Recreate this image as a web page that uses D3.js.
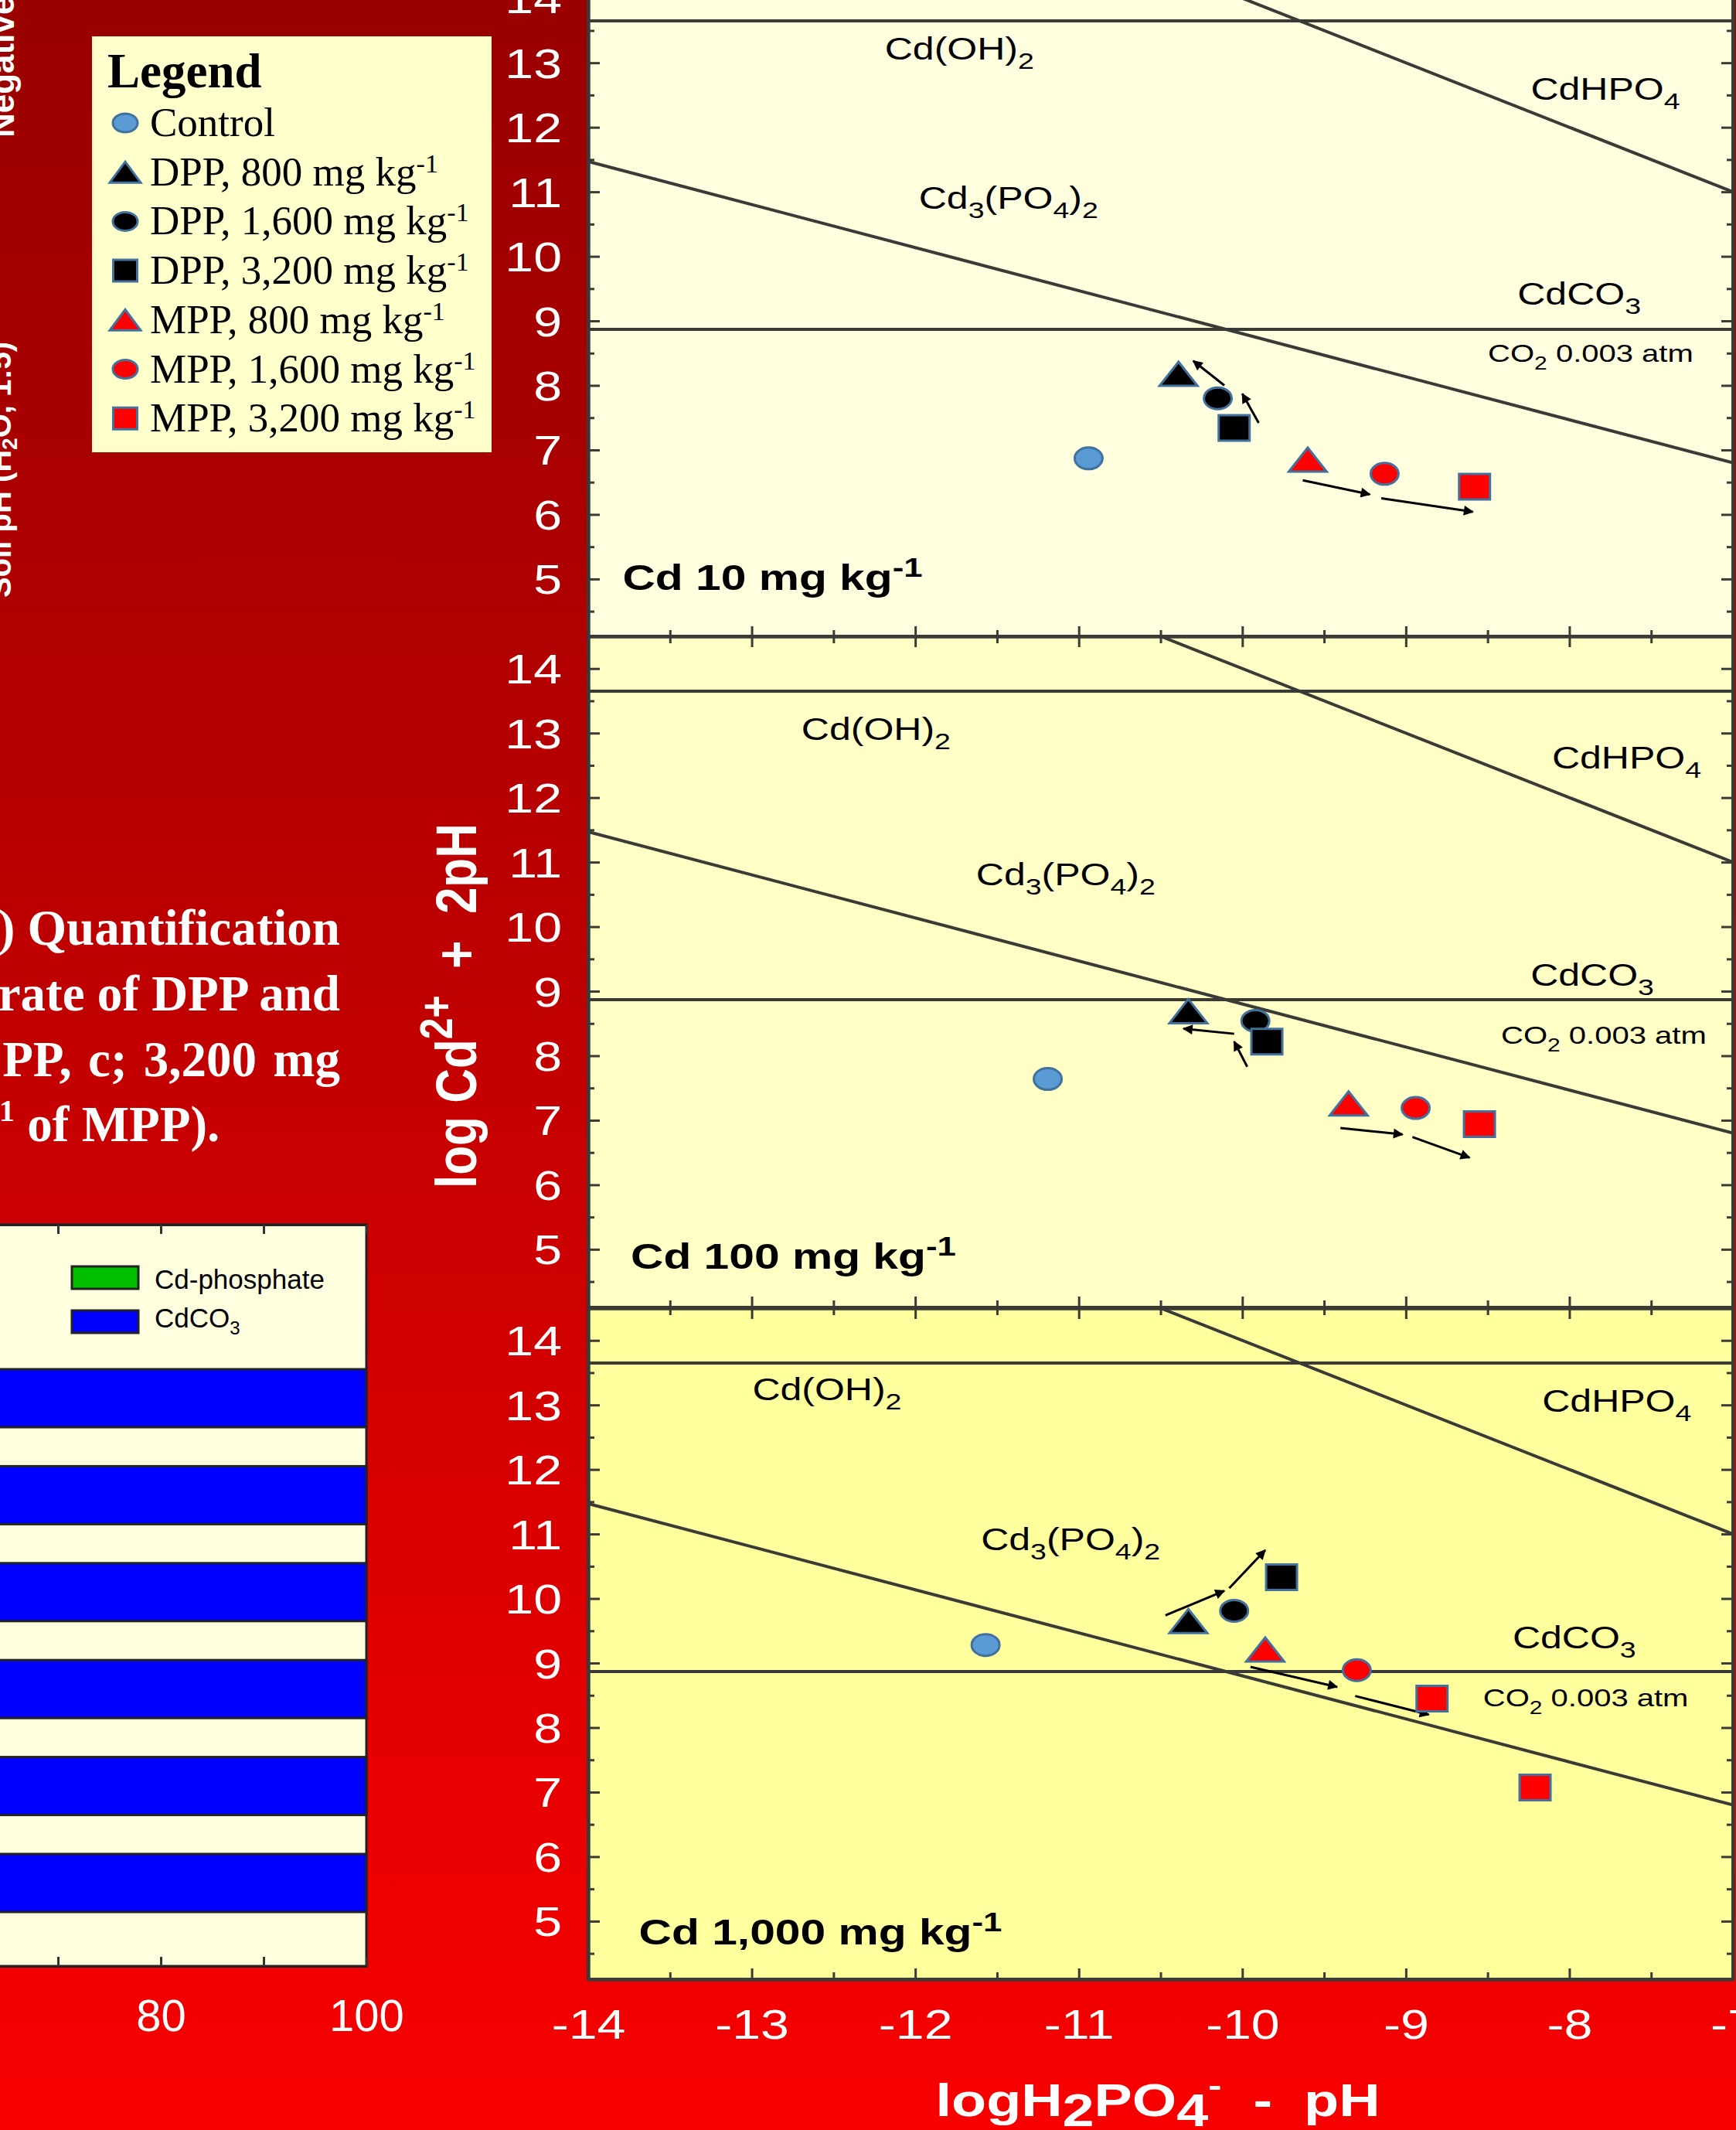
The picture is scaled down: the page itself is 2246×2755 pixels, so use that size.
<!DOCTYPE html>
<html>
<head>
<meta charset="utf-8">
<title>Cd solubility diagram</title>
<script src="https://cdn.jsdelivr.net/npm/d3@7"></script>
<style>
  html, body { margin: 0; padding: 0; background: #b00000; overflow: hidden; }
  svg { display: block; }
  text { font-family: "Liberation Sans", Arial, sans-serif; white-space: pre; }
  .serif { font-family: "Liberation Serif", "Times New Roman", serif; }
</style>
</head>
<body>
<script>
// ---------------- data ----------------
// treatments, in legend order
const treatments = ["Control", "DPP, 800", "DPP, 1,600", "DPP, 3,200", "MPP, 800", "MPP, 1,600", "MPP, 3,200"];

// soil spiked with Cd 10 mg/kg : x = log H2PO4- - pH, y = log Cd2+ + 2pH
const cd10X = [-10.94, -10.39, -10.15, -10.05, -9.60, -9.13, -8.58];
const cd10Y = [6.87, 8.18, 7.80, 7.34, 6.85, 6.63, 6.43];
// Cd 100 mg/kg
const cd100X = [-11.19, -10.33, -9.92, -9.85, -9.35, -8.94, -8.55];
const cd100Y = [7.64, 8.69, 8.54, 8.22, 7.26, 7.19, 6.94];
// Cd 1,000 mg/kg (MPP 3,200 shows two points)
const cd1000X = [-11.57, -10.33, -10.05, -9.76, -9.86, -9.30, -8.84, -8.21];
const cd1000Y = [9.28, 9.65, 9.81, 10.33, 9.21, 8.89, 8.45, 7.07];
const cd1000Treatment = [0, 1, 2, 3, 4, 5, 6, 6];

// trend arrows [x1, y1, x2, y2]
const cd10Arrows = [[-10.11, 8.00, -10.30, 8.38], [-9.90, 7.42, -10.00, 7.87], [-9.63, 6.53, -9.22, 6.31], [-9.15, 6.25, -8.59, 6.04]];
const cd100Arrows = [[-10.05, 8.34, -10.36, 8.42], [-9.97, 7.83, -10.05, 8.22], [-9.40, 6.88, -9.02, 6.78], [-8.96, 6.74, -8.61, 6.42]];
const cd1000Arrows = [[-10.47, 9.74, -10.11, 10.12], [-10.08, 10.16, -9.86, 10.75], [-9.95, 8.94, -9.42, 8.63], [-9.31, 8.49, -8.86, 8.20]];

// solubility boundaries
const cdOH2Level = 13.65;                      // Cd(OH)2
const cdCO3Level = 8.87;                       // CdCO3, CO2 0.003 atm
const cd3PO42Line = [[-14, 11.47], [-7, 6.80]]; // Cd3(PO4)2
const cdHPO4Line = [[-10.5, 14.5], [-7, 11.0]]; // CdHPO4

const panelTitles = ["Cd 10 mg kg", "Cd 100 mg kg", "Cd 1,000 mg kg"];
const xTicks = [-14, -13, -12, -11, -10, -9, -8, -7];
const yTicks = [5, 6, 7, 8, 9, 10, 11, 12, 13, 14];

// quantification bars (%), one row per phosphate treatment
const barRows = ["DPP, 800", "DPP, 1,600", "DPP, 3,200", "MPP, 800", "MPP, 1,600", "MPP, 3,200"];
const cdPhosphatePct = [0, 0, 0, 0, 0, 0];
const cdCO3Pct = [100, 100, 100, 100, 100, 100];
const barTicks = [60, 70, 80, 90, 100];

// ---------------- styles ----------------
const markerStyle = [
  {shape: "ellipse", fill: "#5b9bd5"},
  {shape: "triangle", fill: "#000000"},
  {shape: "ellipse", fill: "#000000"},
  {shape: "square", fill: "#000000"},
  {shape: "triangle", fill: "#ff0000"},
  {shape: "ellipse", fill: "#ff0000"},
  {shape: "square", fill: "#ff0000"}
];
const plotSize = {ellipse: [36, 28], triangle: [49, 31], square: [40, 33]};
const legendSize = {ellipse: [32, 24], triangle: [40, 27], square: [31, 28]};
const panelFill = ["#ffffdf", "#ffffc6", "#ffff9e"];
const ink = "#3a3a36";
const SX = 1.25; // horizontal stretch of the diagram lettering

// ---------------- layout ----------------
const W = 2246, H = 2755;
const svg = d3.select("body").append("svg").attr("width", W).attr("height", H);
const defs = svg.append("defs");

const bgGrad = defs.append("linearGradient").attr("id", "bg").attr("x1", 0).attr("y1", 0).attr("x2", 0).attr("y2", 1);
[[0, "#9a0000"], [0.2, "#a80000"], [0.47, "#c00000"], [0.65, "#d30000"], [1, "#f80000"]]
  .forEach(([o, c]) => bgGrad.append("stop").attr("offset", o).attr("stop-color", c));
svg.append("rect").attr("width", W).attr("height", H).attr("fill", "url(#bg)");

defs.append("marker").attr("id", "head").attr("viewBox", "0 0 10 10")
  .attr("refX", 9).attr("refY", 5).attr("markerWidth", 17).attr("markerHeight", 13)
  .attr("markerUnits", "userSpaceOnUse").attr("orient", "auto")
  .append("path").attr("d", "M0,0L10,5L0,10Z").attr("fill", "#000");

function shapePath(shape, w, h) {
  if (shape === "triangle") return `M0,${-h / 2}L${w / 2},${h / 2}L${-w / 2},${h / 2}Z`;
  if (shape === "square") return `M${-w / 2},${-h / 2}h${w}v${h}h${-w}Z`;
  return `M${-w / 2},0A${w / 2},${h / 2} 0 1,0 ${w / 2},0A${w / 2},${h / 2} 0 1,0 ${-w / 2},0Z`;
}

// text with sub/superscript parts: [string, kind, options]
function rich(sel, parts, fs, opt = {}) {
  const subSize = opt.subSize || 0.75, supSize = opt.supSize || 0.75;
  let shift = 0;
  parts.forEach(([s, k, o]) => {
    let target = 0, size = fs;
    if (k === "sub") { target = (o && o.dy != null) ? o.dy : fs * 0.3; size = (o && o.size) ? o.size : fs * subSize; }
    if (k === "sup") { target = (o && o.dy != null) ? o.dy : -fs * 0.38; size = (o && o.size) ? o.size : fs * supSize; }
    sel.append("tspan").attr("dy", target - shift).attr("font-size", size).text(s);
    shift = target;
  });
  return sel;
}

// ---------------- solubility diagrams ----------------
const x = d3.scaleLinear().domain([-14, -7]).range([761, 2242]);
const panelTop = [-44, 823, 1692];
const panelH = 868;
const yScales = panelTop.map(t => d3.scaleLinear().domain([4.1, 14.5]).range([t + panelH, t]));

const panels = [
  {xs: cd10X, ys: cd10Y, tr: cd10X.map((d, i) => i), arrows: cd10Arrows},
  {xs: cd100X, ys: cd100Y, tr: cd100X.map((d, i) => i), arrows: cd100Arrows},
  {xs: cd1000X, ys: cd1000Y, tr: cd1000Treatment, arrows: cd1000Arrows}
];

// phase-field labels: centre position (data units) for each panel
const phaseLabels = [
  {parts: [["Cd(OH)", ""], ["2", "sub"]], size: 40, at: [[-11.73, 13.05], [-12.24, 12.89], [-12.54, 13.07]]},
  {parts: [["CdHPO", ""], ["4", "sub"]], size: 40, at: [[-7.78, 12.43], [-7.65, 12.45], [-7.71, 12.89]]},
  {parts: [["Cd", ""], ["3", "sub"], ["(PO", ""], ["4", "sub"], [")", ""], ["2", "sub"]], size: 40, at: [[-11.43, 10.74], [-11.08, 10.64], [-11.05, 10.75]]},
  {parts: [["CdCO", ""], ["3", "sub"]], size: 40, at: [[-7.94, 9.25], [-7.86, 9.08], [-7.97, 9.23]]},
  {parts: [["CO", ""], ["2", "sub"], [" 0.003 atm", ""]], size: 32, at: [[-7.87, 8.36], [-7.79, 8.18], [-7.90, 8.33]]}
];
const titleAt = [[-13.79, 4.83], [-13.74, 4.70], [-13.69, 4.64]];

panels.forEach((p, i) => {
  const y = yScales[i];
  const g = svg.append("g");
  const x0 = x(-14), x1 = x(-7), y0 = y(14.5), y1 = y(4.1);

  defs.append("clipPath").attr("id", "clip" + i)
    .append("rect").attr("x", x0).attr("y", y0).attr("width", x1 - x0).attr("height", y1 - y0);

  g.append("rect").attr("x", x0).attr("y", y0).attr("width", x1 - x0).attr("height", y1 - y0)
    .attr("fill", panelFill[i]);

  const inner = g.append("g").attr("clip-path", `url(#clip${i})`);
  const line = d3.line().x(d => x(d[0])).y(d => y(d[1]));
  const bounds = [
    [[-14, cdOH2Level], [-7, cdOH2Level]],
    [[-14, cdCO3Level], [-7, cdCO3Level]],
    cd3PO42Line,
    cdHPO4Line
  ];
  inner.selectAll("path.bound").data(bounds).join("path").attr("class", "bound")
    .attr("d", line).attr("fill", "none").attr("stroke", ink).attr("stroke-width", 4);

  // phase labels
  phaseLabels.forEach(l => {
    const [lx, ly] = l.at[i];
    const t = inner.append("text").attr("text-anchor", "middle").attr("fill", "#000")
      .attr("font-size", l.size)
      .attr("transform", `translate(${x(lx)},${y(ly)}) scale(${SX},1)`);
    rich(t, l.parts, l.size);
  });

  // panel title
  const tt = inner.append("text").attr("font-weight", "bold").attr("font-size", 47).attr("fill", "#000")
    .attr("transform", `translate(${x(titleAt[i][0])},${y(titleAt[i][1])}) scale(${SX},1)`);
  rich(tt, [[panelTitles[i], ""], ["-1", "sup", {dy: -17, size: 35}]], 47);

  // arrows
  inner.selectAll("line.arrow").data(p.arrows).join("line").attr("class", "arrow")
    .attr("x1", d => x(d[0])).attr("y1", d => y(d[1]))
    .attr("x2", d => x(d[2])).attr("y2", d => y(d[3]))
    .attr("stroke", "#000").attr("stroke-width", 3).attr("marker-end", "url(#head)");

  // treatment markers
  const pts = p.xs.map((v, k) => ({x: v, y: p.ys[k], t: p.tr[k]}));
  inner.selectAll("path.pt").data(pts).join("path").attr("class", "pt")
    .attr("transform", d => `translate(${x(d.x)},${y(d.y)})`)
    .attr("d", d => shapePath(markerStyle[d.t].shape, ...plotSize[markerStyle[d.t].shape]))
    .attr("fill", d => markerStyle[d.t].fill)
    .attr("stroke", "#41719c").attr("stroke-width", 3);

  // axes with inward ticks on all four sides
  const half = d3.range(4.5, 14.5, 1);
  const xHalf = d3.range(-13.5, -7, 1);
  const styleAxis = a => {
    a.selectAll("path.domain").attr("stroke", ink).attr("stroke-width", 4);
    a.selectAll("line").attr("stroke", ink).attr("stroke-width", 3);
  };
  const left = g.append("g").attr("transform", `translate(${x0},0)`)
    .call(d3.axisLeft(y).tickValues(yTicks).tickSizeInner(-15).tickSizeOuter(0).tickFormat(d3.format("d")));
  left.selectAll("text").attr("x", null).attr("dy", null)
    .attr("transform", `translate(-34,19) scale(${SX},1)`)
    .attr("font-size", 53).attr("fill", "#fff").attr("text-anchor", "end");
  g.append("g").attr("transform", `translate(${x0},0)`)
    .call(d3.axisLeft(y).tickValues(half).tickSizeInner(-8).tickSizeOuter(0).tickFormat(""))
    .call(styleAxis);
  styleAxis(left);

  g.append("g").attr("transform", `translate(${x1},0)`)
    .call(d3.axisRight(y).tickValues(yTicks).tickSizeInner(-15).tickSizeOuter(0).tickFormat("")).call(styleAxis);
  g.append("g").attr("transform", `translate(${x1},0)`)
    .call(d3.axisRight(y).tickValues(half).tickSizeInner(-8).tickSizeOuter(0).tickFormat("")).call(styleAxis);
  g.append("g").attr("transform", `translate(0,${y0})`)
    .call(d3.axisTop(x).tickValues(xTicks).tickSizeInner(-14).tickSizeOuter(0).tickFormat("")).call(styleAxis);
  g.append("g").attr("transform", `translate(0,${y0})`)
    .call(d3.axisTop(x).tickValues(xHalf).tickSizeInner(-9).tickSizeOuter(0).tickFormat("")).call(styleAxis);

  const bottom = g.append("g").attr("transform", `translate(0,${y1})`)
    .call(d3.axisBottom(x).tickValues(xTicks).tickSizeInner(-14).tickSizeOuter(0)
      .tickFormat(i === 2 ? (d => String(d)) : ""));
  bottom.selectAll("text").attr("y", null).attr("dy", null)
    .attr("transform", `translate(0,77) scale(${SX},1)`)
    .attr("font-size", 53).attr("fill", "#fff");
  styleAxis(bottom);
  g.append("g").attr("transform", `translate(0,${y1})`)
    .call(d3.axisBottom(x).tickValues(xHalf).tickSizeInner(-9).tickSizeOuter(0).tickFormat("")).call(styleAxis);

  g.append("rect").attr("x", x0).attr("y", y0).attr("width", x1 - x0).attr("height", y1 - y0)
    .attr("fill", "none").attr("stroke", ink).attr("stroke-width", 4);
});

// shared axis titles
const yTitle = svg.append("text").attr("text-anchor", "middle").attr("font-weight", "bold")
  .attr("font-size", 62).attr("fill", "#fff")
  .attr("transform", `translate(616,1301) scale(1.2,1) rotate(-90)`);
rich(yTitle, [["log Cd", ""], ["2+", "sup", {dy: -26, size: 50}], ["  +  2pH", ""]], 62);

const xTitle = svg.append("text").attr("text-anchor", "middle").attr("font-weight", "bold")
  .attr("font-size", 60).attr("fill", "#fff")
  .attr("transform", `translate(1498,2737) scale(1.23,1)`);
rich(xTitle, [["logH", ""], ["2", "sub", {dy: 13, size: 60}], ["PO", ""], ["4", "sub", {dy: 13, size: 60}],
  ["-", "sup", {dy: -25, size: 42}], ["  -  pH", ""]], 60);

// ---------------- treatment legend ----------------
const lg = svg.append("g");
lg.append("rect").attr("x", 119).attr("y", 47).attr("width", 517).attr("height", 538).attr("fill", "#ffffcc");
lg.append("text").attr("class", "serif").attr("x", 139).attr("y", 113)
  .attr("font-size", 63).attr("font-weight", "bold").attr("fill", "#000").text("Legend");
treatments.forEach((name, k) => {
  const by = 176 + k * 63.7;
  const st = markerStyle[k];
  lg.append("path").attr("transform", `translate(162,${by - 17})`)
    .attr("d", shapePath(st.shape, ...legendSize[st.shape]))
    .attr("fill", st.fill).attr("stroke", "#41719c").attr("stroke-width", 3);
  const t = lg.append("text").attr("class", "serif").attr("x", 194).attr("y", by)
    .attr("font-size", 53).attr("fill", "#000");
  if (k === 0) t.text(name);
  else rich(t, [[name + " mg kg", ""], ["-1", "sup", {dy: -17, size: 34}]], 53);
});

// ---------------- left-hand material ----------------
const cap = svg.append("g").attr("class", "serif").attr("fill", "#fff").attr("font-weight", "bold").attr("font-size", 65);
cap.append("text").attr("class", "serif").attr("x", 440).attr("y", 1222).attr("text-anchor", "end").text(") Quantification");
cap.append("text").attr("class", "serif").attr("x", 440).attr("y", 1307).attr("text-anchor", "end").text("rate of DPP and");
cap.append("text").attr("class", "serif").attr("x", 440).attr("y", 1392).attr("text-anchor", "end")
  .attr("word-spacing", 5).text("PP, c; 3,200 mg");
const l4 = cap.append("text").attr("class", "serif").attr("x", -1).attr("y", 1476);
rich(l4, [["1", "sup", {dy: -26, size: 40}], [" of MPP).", ""]], 65);

svg.append("text").attr("font-weight", "bold").attr("font-size", 44).attr("fill", "#fff")
  .attr("transform", "translate(18,178) rotate(-90)").text("Negative");
const soil = svg.append("text").attr("font-weight", "bold").attr("font-size", 40).attr("fill", "#fff")
  .attr("transform", "translate(14,773) rotate(-90)");
rich(soil, [["Soil pH (H", ""], ["2", "sub", {dy: 8, size: 28}], ["O, 1:5)", ""]], 40);

// ---------------- quantification bars ----------------
const xb = d3.scaleLinear().domain([0, 100]).range([-856, 474]);
const yb = d3.scaleBand().domain(barRows).range([1771, 2473]).paddingInner(0.402);
const bTop = 1584, bBot = 2543;
const bc = svg.append("g");
bc.append("rect").attr("x", -10).attr("y", bTop).attr("width", xb(100) + 10).attr("height", bBot - bTop)
  .attr("fill", "#ffffe0").attr("stroke", "#222").attr("stroke-width", 3);

const stack = barRows.map((r, k) => ({row: r, p: cdPhosphatePct[k], c: cdCO3Pct[k]}));
bc.selectAll("rect.ph").data(stack).join("rect").attr("class", "ph")
  .attr("x", xb(0)).attr("y", d => yb(d.row)).attr("height", yb.bandwidth())
  .attr("width", d => xb(d.p) - xb(0)).attr("fill", "#00c000").attr("stroke", "#222").attr("stroke-width", 3);
bc.selectAll("rect.co").data(stack).join("rect").attr("class", "co")
  .attr("x", d => xb(d.p)).attr("y", d => yb(d.row)).attr("height", yb.bandwidth())
  .attr("width", d => xb(d.p + d.c) - xb(d.p)).attr("fill", "#0000ff").attr("stroke", "#222").attr("stroke-width", 3);

const bAxis = bc.append("g").attr("transform", `translate(0,${bBot})`)
  .call(d3.axisBottom(xb).tickValues(barTicks).tickSizeInner(-12).tickSizeOuter(0)
    .tickFormat(d => d % 20 === 0 ? d : ""));
bAxis.selectAll("text").attr("y", null).attr("dy", null).attr("transform", "translate(0,84)")
  .attr("font-size", 58).attr("fill", "#fff");
bAxis.selectAll("line").attr("stroke", "#333").attr("stroke-width", 3);
bAxis.select("path.domain").attr("stroke", "#222").attr("stroke-width", 3);
const bAxisTop = bc.append("g").attr("transform", `translate(0,${bTop})`)
  .call(d3.axisTop(xb).tickValues(barTicks).tickSizeInner(-12).tickSizeOuter(0).tickFormat(""));
bAxisTop.selectAll("line").attr("stroke", "#333").attr("stroke-width", 3);
bAxisTop.select("path.domain").attr("stroke", "#222").attr("stroke-width", 3);

const barLegend = [["Cd-phosphate", "#00c000"], ["CdCO", "#0000ff"]];
barLegend.forEach(([name, col], k) => {
  bc.append("rect").attr("x", 93).attr("y", 1638 + k * 57).attr("width", 86).attr("height", 29)
    .attr("fill", col).attr("stroke", "#222").attr("stroke-width", 3);
  const t = bc.append("text").attr("x", 200).attr("y", 1667 + k * 50).attr("font-size", 35).attr("fill", "#000");
  if (k === 0) t.text(name);
  else rich(t, [[name, ""], ["3", "sub", {dy: 9, size: 24}]], 35);
});
</script>
</body>
</html>
